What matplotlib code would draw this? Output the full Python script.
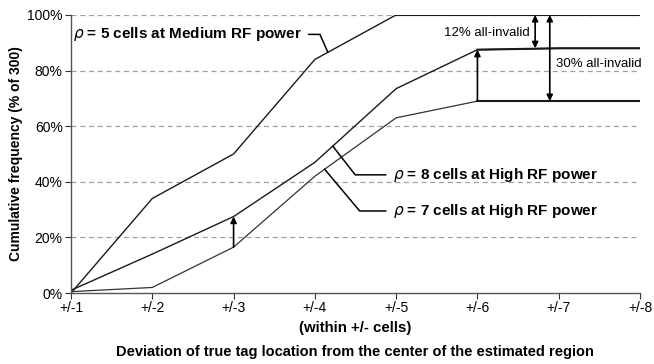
import matplotlib.pyplot as plt
import numpy as np

# deviation (within +/- cells)
cells = [1, 2, 3, 4, 5, 6, 7, 8]
tick_labels = ['+/-1', '+/-2', '+/-3', '+/-4', '+/-5', '+/-6', '+/-7', '+/-8']

# cumulative frequency (% of 300)
medium_5 = [0, 34, 50, 84, 100, 100, 100, 100]
high_8 = [1, 14, 27.5, 47, 73.5, 87.5, 88, 88]
high_7 = [0.5, 2, 16.5, 42, 63, 69, 69, 69]

plt.rcParams['font.family'] = ['Liberation Sans', 'DejaVu Sans']

fig = plt.figure(figsize=(6.54, 3.64), dpi=100)
ax = fig.add_axes([0.1086, 0.195, 0.87, 0.764])

for v in [20, 40, 60, 80, 100]:
    ax.axhline(v, color='#a0a0a0', lw=0.9, ls=(0, (4, 3)), zorder=0)

ax.plot(cells, medium_5, color='#1a1a1a', lw=1.0)
ax.plot(cells, high_8, color='#1a1a1a', lw=1.0)
ax.plot(cells, high_7, color='#333333', lw=0.9)
# plateau segments appear heavier
ax.plot(cells[4:], medium_5[4:], color='#1a1a1a', lw=1.5)
ax.plot(cells[5:], high_8[5:], color='#1a1a1a', lw=1.5)
ax.plot(cells[5:], high_7[5:], color='#1a1a1a', lw=1.5)

ax.set_xlim(1, 8)
ax.set_ylim(0, 100)
ax.set_xticks(cells)
ax.set_xticklabels(tick_labels)
ax.set_yticks([0, 20, 40, 60, 80, 100])
ax.set_yticklabels(['0%', '20%', '40%', '60%', '80%', '100%'])
ax.tick_params(labelsize=10, length=4, width=0.8, colors='#333333', labelcolor='black', pad=2)
for s in ['top', 'right']:
    ax.spines[s].set_visible(False)
for s in ['left', 'bottom']:
    ax.spines[s].set_color('#555555')
    ax.spines[s].set_linewidth(1.0)

ax.set_ylabel('Cumulative frequency (% of 300)', fontsize=10, fontweight='bold', labelpad=3)
fig.text(0.543, 0.1, '(within +/- cells)', ha='center', va='center', fontsize=10.8, fontweight='bold')
fig.text(0.543, 0.032, 'Deviation of true tag location from the center of the estimated region',
         ha='center', va='center', fontsize=10.5, fontweight='bold')

arrow = dict(arrowstyle='-|>', color='black', lw=1.2, mutation_scale=9, shrinkA=0, shrinkB=0)
darrow = dict(arrowstyle='<|-|>', color='black', lw=1.2, mutation_scale=9, shrinkA=0, shrinkB=0)

# arrow at +/-3 between the two High RF curves
ax.annotate('', xy=(cells[2], high_8[2]), xytext=(cells[2], high_7[2]), arrowprops=arrow)
# arrow at +/-6
ax.annotate('', xy=(cells[5], high_8[5]), xytext=(cells[5], high_7[5]), arrowprops=arrow)
# all-invalid double arrows
ax.annotate('', xy=(6.71, medium_5[-1]), xytext=(6.71, high_8[-1]), arrowprops=darrow)
ax.annotate('', xy=(6.89, medium_5[-1]), xytext=(6.89, high_7[-1]), arrowprops=darrow)
ax.text(6.64, 93.5, '12% all-invalid', ha='right', va='center', fontsize=9.5)
ax.text(6.97, 82.5, '30% all-invalid', ha='left', va='center', fontsize=9.5)

lead = dict(arrowstyle='-', color='black', lw=1.1, shrinkA=3, shrinkB=0)

x5 = 4.16
ax.annotate(r'$\rho$ = 5 cells at Medium RF power', xy=(x5, np.interp(x5, cells, medium_5)),
            xytext=(1.02, 93), ha='left', va='center', fontsize=11, fontweight='bold',
            arrowprops=dict(lead, relpos=(1, 0.5), connectionstyle='angle,angleA=0,angleB=114,rad=0'))
x8 = 4.22
ax.annotate(r'$\rho$ = 8 cells at High RF power', xy=(x8, np.interp(x8, cells, high_8)),
            xytext=(4.96, 42.5), ha='left', va='center', fontsize=11, fontweight='bold',
            arrowprops=dict(lead, relpos=(0, 0.5), connectionstyle='angle,angleA=180,angleB=-52,rad=0'))
x7 = 4.12
ax.annotate(r'$\rho$ = 7 cells at High RF power', xy=(x7, np.interp(x7, cells, high_7)),
            xytext=(4.96, 29.5), ha='left', va='center', fontsize=11, fontweight='bold',
            arrowprops=dict(lead, relpos=(0, 0.5), connectionstyle='angle,angleA=180,angleB=-50,rad=0'))

fig.savefig('out.png', dpi=100)
